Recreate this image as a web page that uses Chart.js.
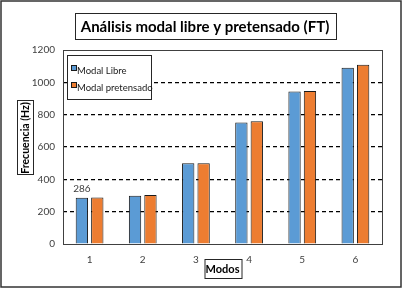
<!DOCTYPE html>
<html>
<head>
<meta charset="utf-8">
<script src="https://cdn.jsdelivr.net/npm/chart.js@4.4.0/dist/chart.umd.min.js"></script>
<style>
  html, body { margin: 0; padding: 0; background: #fff; overflow: hidden; }
  canvas { display: block; }
</style>
</head>
<body>
<canvas id="grafico" width="402" height="289"></canvas>
<script>
// datos
const modos = ['1', '2', '3', '4', '5', '6'];
const modalLibre = [286, 299, 500, 751, 943, 1090];
const modalPretensado = [288, 303, 500, 759, 947, 1108];
const yMax = 1200;
const yPaso = 200;

const tituloTexto = 'Análisis modal libre y pretensado (FT)';
const tituloY = 'Frecuencia (Hz)';
const tituloX = 'Modos';

function cajaTexto(ctx, txt, cx, cy, w, h, font, rot) {
    ctx.save();
    ctx.translate(cx, cy);
    if (rot) ctx.rotate(-Math.PI / 2);
    ctx.fillStyle = '#fff';
    ctx.fillRect(-w / 2, -h / 2, w, h);
    ctx.strokeStyle = '#262626';
    ctx.lineWidth = 1;
    ctx.strokeRect(Math.round(-w / 2) + 0.5, Math.round(-h / 2) + 0.5, w, h);
    ctx.fillStyle = '#000';
    ctx.font = font;
    ctx.textAlign = 'center';
    ctx.textBaseline = 'middle';
    ctx.fillText(txt, 0, 1);
    ctx.restore();
}

const decoracion = {
    id: 'decoracion',
    beforeDraw(chart) {
        const ctx = chart.ctx;
        ctx.save();
        ctx.fillStyle = '#fff';
        ctx.fillRect(0, 0, chart.width, chart.height);
        ctx.restore();
    },
    beforeDatasetsDraw(chart) {
        const {ctx, chartArea: {left, top, right, bottom}} = chart;
        ctx.save();
        ctx.strokeStyle = '#404040';
        ctx.lineWidth = 1;
        ctx.strokeRect(left + 0.5, top + 0.5, right - left, bottom - top);
        ctx.restore();
    },
    afterDraw(chart) {
        const ctx = chart.ctx;
        const {left, right} = chart.chartArea;

        // marco exterior
        ctx.save();
        ctx.strokeStyle = '#333';
        ctx.lineWidth = 1.5;
        ctx.strokeRect(1, 1, chart.width - 2, 286);
        ctx.restore();

        // titulos con caja
        cajaTexto(ctx, tituloTexto, 205, 26, 261, 26, 'bold 15px Lato', false);
        cajaTexto(ctx, tituloY, 25, 138, 74, 16, 'bold 10.5px Lato', true);
        cajaTexto(ctx, tituloX, (left + right) / 2, 268, 37, 19, 'bold 11px Lato', false);

        // etiqueta del primer modo
        const bar = chart.getDatasetMeta(0).data[0];
        ctx.save();
        ctx.fillStyle = '#404040';
        ctx.font = '10px Lato';
        ctx.textAlign = 'center';
        ctx.textBaseline = 'bottom';
        ctx.fillText(String(modalLibre[0]), bar.x, bar.y - 4);
        ctx.restore();

        // leyenda dentro del area
        const lx = 67, ly = 55, lw = 84, lh = 44;
        ctx.save();
        ctx.fillStyle = '#fff';
        ctx.fillRect(lx, ly, lw, lh);
        ctx.strokeStyle = '#262626';
        ctx.lineWidth = 1;
        ctx.strokeRect(lx + 0.5, ly + 0.5, lw, lh);
        ctx.font = '9.5px Lato';
        ctx.textBaseline = 'middle';
        ctx.textAlign = 'left';
        chart.data.datasets.forEach((ds, i) => {
            const sy = ly + 10 + i * 17;
            ctx.fillStyle = ds.backgroundColor;
            ctx.fillRect(lx + 4, sy, 6, 6);
            ctx.strokeStyle = '#1a1a1a';
            ctx.strokeRect(lx + 4.5, sy + 0.5, 5, 5);
            ctx.fillStyle = '#1a1a1a';
            ctx.fillText(ds.label, lx + 10, sy + 6);
        });
        ctx.restore();
    }
};

const ctx = document.getElementById('grafico').getContext('2d');
const miGrafico = new Chart(ctx, {
    type: 'bar',
    data: {
        labels: modos,
        datasets: [
            {
                label: 'Modal Libre',
                data: modalLibre,
                backgroundColor: '#5B9BD5',
                borderColor: '#1a1a1a',
                borderWidth: 1,
                categoryPercentage: 0.58,
                barPercentage: 0.8
            },
            {
                label: 'Modal pretensado',
                data: modalPretensado,
                backgroundColor: '#ED7D31',
                borderColor: '#1a1a1a',
                borderWidth: 1,
                categoryPercentage: 0.58,
                barPercentage: 0.8
            }
        ]
    },
    options: {
        responsive: false,
        animation: false,
        devicePixelRatio: 1,
        layout: { padding: { left: 0, top: 50, right: 20, bottom: 0 } },
        plugins: {
            legend: { display: false },
            title: { display: false },
            tooltip: { enabled: false }
        },
        scales: {
            x: {
                grid: { display: false, drawTicks: false },
                border: { display: false },
                ticks: { color: '#404040', font: { family: 'Lato', size: 10 }, padding: 10 },
                afterFit(scale) { scale.height = 45; }
            },
            y: {
                min: 0,
                max: yMax,
                ticks: {
                    stepSize: yPaso,
                    color: '#404040',
                    font: { family: 'Lato', size: 10 },
                    padding: 8,
                    callback: (v) => String(v)
                },
                grid: {
                    drawTicks: false,
                    color: (c) => (c.tick && (c.tick.value === 0 || c.tick.value === yMax)) ? 'rgba(0,0,0,0)' : '#000',
                    lineWidth: 1.2
                },
                border: { display: false, dash: [4, 3] },
                afterFit(scale) { scale.width = 63; }
            }
        }
    },
    plugins: [decoracion]
});
</script>
</body>
</html>
